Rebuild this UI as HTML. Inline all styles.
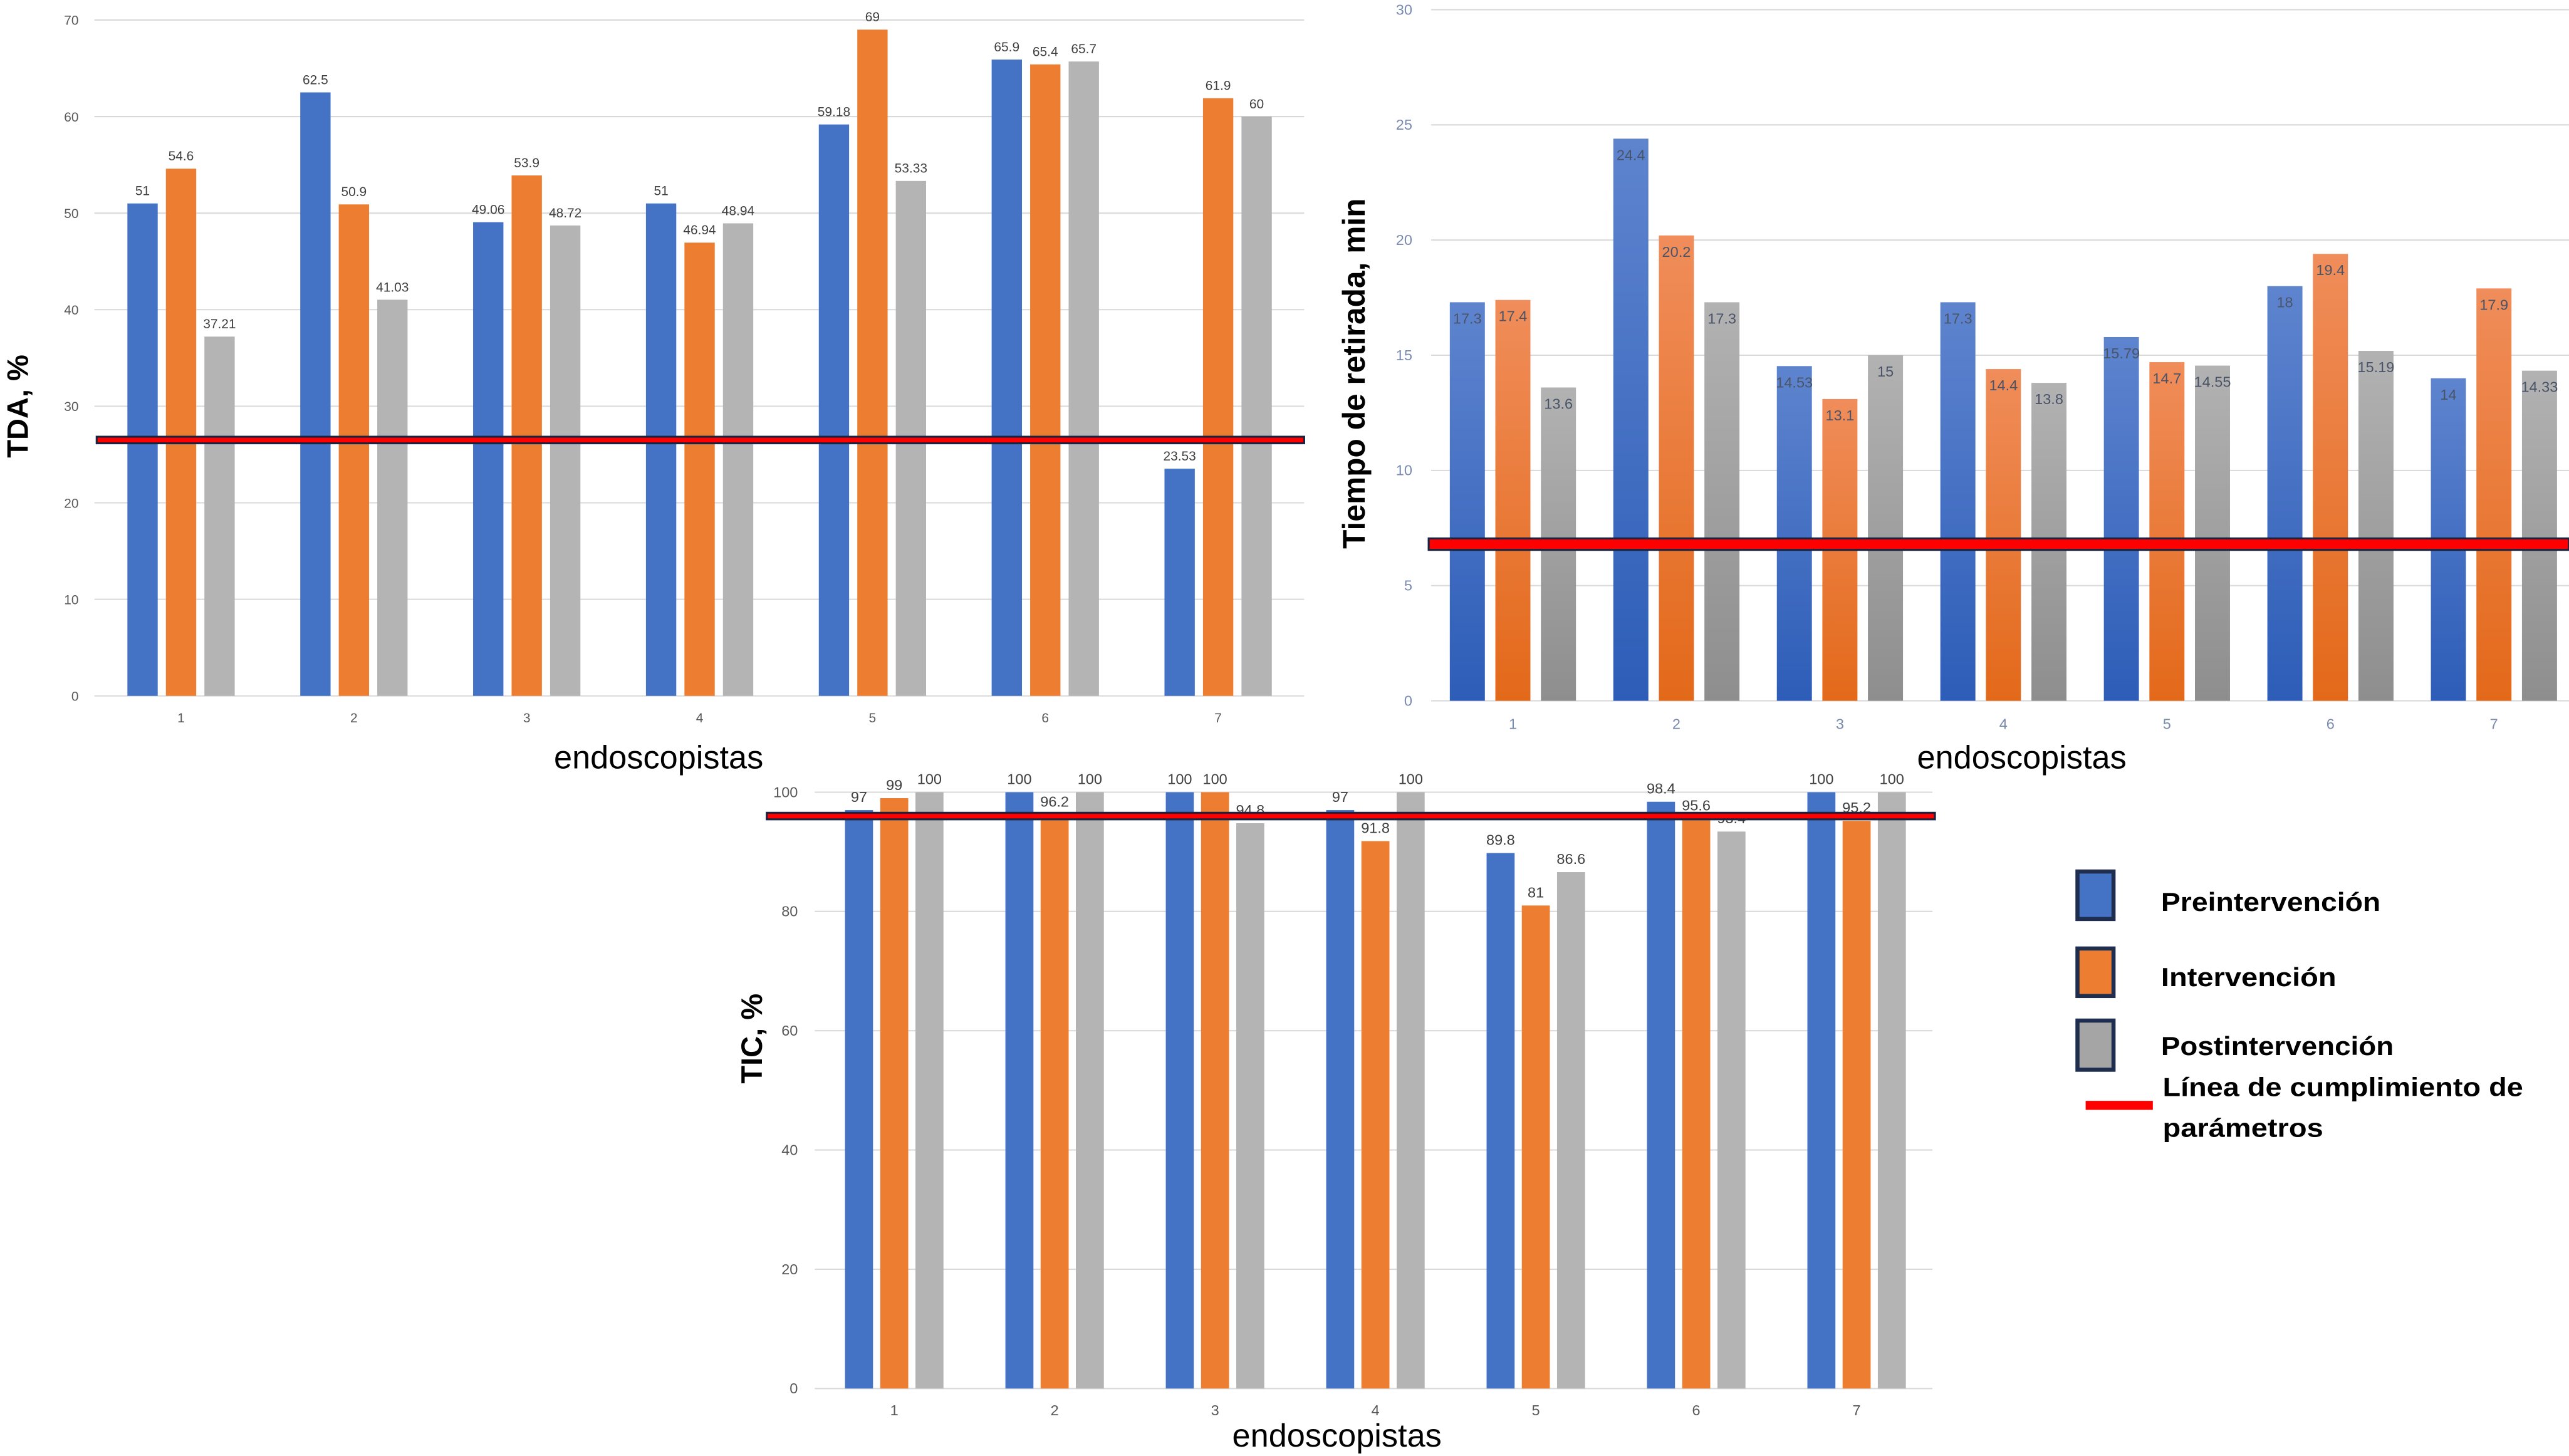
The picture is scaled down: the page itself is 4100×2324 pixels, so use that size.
<!DOCTYPE html>
<html><head><meta charset="utf-8"><style>
html,body{margin:0;padding:0;background:#fff;}
svg{display:block;}
</style></head><body>
<svg id="fig" xmlns="http://www.w3.org/2000/svg" width="4100" height="2324" viewBox="0 0 1568 888.8" font-family="'Liberation Sans', sans-serif">
<defs>
<linearGradient id="gBlue" x1="0" y1="0" x2="0" y2="1"><stop offset="0" stop-color="#5e84ce"/><stop offset="1" stop-color="#2d5db8"/></linearGradient>
<linearGradient id="gOrange" x1="0" y1="0" x2="0" y2="1"><stop offset="0" stop-color="#f08d5a"/><stop offset="1" stop-color="#e3691a"/></linearGradient>
<linearGradient id="gGray" x1="0" y1="0" x2="0" y2="1"><stop offset="0" stop-color="#b2b2b2"/><stop offset="1" stop-color="#8e8e8e"/></linearGradient>
</defs>
<g id="c1"></g>
<g id="c2"></g>
<g id="c3"></g>

<text x="17" y="248" transform="rotate(-90 17 248)" text-anchor="middle" font-size="18" font-weight="bold">TDA, %</text>
<text x="402" y="469" text-anchor="middle" font-size="20">endoscopistas</text>
<text x="833" y="228" transform="rotate(-90 833 228)" text-anchor="middle" font-size="19" font-weight="bold">Tiempo de retirada, min</text>
<text x="1234" y="469" text-anchor="middle" font-size="20">endoscopistas</text>
<text x="465" y="634" transform="rotate(-90 465 634)" text-anchor="middle" font-size="18" font-weight="bold">TIC, %</text>
<text x="816" y="883" text-anchor="middle" font-size="20">endoscopistas</text>

<g>
<rect x="1268" y="532" width="22" height="29" fill="#4472c4" stroke="#1f2d4e" stroke-width="2.5"/>
<text x="1319" y="556" font-size="16" font-weight="bold" textLength="134" lengthAdjust="spacingAndGlyphs">Preintervención</text>
<rect x="1268" y="579" width="22" height="29" fill="#ed7d31" stroke="#1f2d4e" stroke-width="2.5"/>
<text x="1319" y="602" font-size="16" font-weight="bold" textLength="107" lengthAdjust="spacingAndGlyphs">Intervención</text>
<rect x="1268" y="623" width="22" height="30" fill="#a5a5a5" stroke="#1f2d4e" stroke-width="2.5"/>
<text x="1319" y="644" font-size="16" font-weight="bold" textLength="142" lengthAdjust="spacingAndGlyphs">Postintervención</text>
<rect x="1273" y="672" width="41" height="5.5" fill="#ff0000"/>
<text x="1320" y="669" font-size="16" font-weight="bold" textLength="220" lengthAdjust="spacingAndGlyphs">Línea de cumplimiento de</text>
<text x="1320" y="694" font-size="16" font-weight="bold" textLength="98" lengthAdjust="spacingAndGlyphs">parámetros</text>
</g>
</svg>
<script>
const categories = ["1","2","3","4","5","6","7"];
const tdaPre = [51, 62.5, 49.06, 51, 59.18, 65.9, 23.53];
const tdaInt = [54.6, 50.9, 53.9, 46.94, 69, 65.4, 61.9];
const tdaPost = [37.21, 41.03, 48.72, 48.94, 53.33, 65.7, 60];
const tdaTicks = [0, 10, 20, 30, 40, 50, 60, 70];
const tdaThreshold = 26.5;
const timePre = [17.3, 24.4, 14.53, 17.3, 15.79, 18, 14];
const timeInt = [17.4, 20.2, 13.1, 14.4, 14.7, 19.4, 17.9];
const timePost = [13.6, 17.3, 15, 13.8, 14.55, 15.19, 14.33];
const timeTicks = [0, 5, 10, 15, 20, 25, 30];
const timeThreshold = 6.8;
const ticPre = [97, 100, 100, 97, 89.8, 98.4, 100];
const ticInt = [99, 96.2, 100, 91.8, 81, 95.6, 95.2];
const ticPost = [100, 100, 94.8, 100, 86.6, 93.4, 100];
const ticTicks = [0, 20, 40, 60, 80, 100];
const ticThreshold = 96;

const NS = "http://www.w3.org/2000/svg";
function mk(tag, attrs, parent){
  const e = document.createElementNS(NS, tag);
  for (const k in attrs) e.setAttribute(k, attrs[k]);
  parent.appendChild(e);
  return e;
}
function chart(g, o){
  const y = v => o.y0 - (v - o.min) / (o.max - o.min) * (o.y0 - o.yTop);
  const x = i => o.c0 + o.step * i;
  o.ticks.forEach(t => {
    const gl = mk("line", {x1:o.left, x2:o.right, y1:y(t), y2:y(t), stroke:"#d9d9d9", "stroke-width":0.8}, g);
    
    
    const tl = mk("text", {x:o.tickX, y:y(t)+3, "text-anchor":"end", "font-size":o.tickFs, fill:o.tickColor, "font-family":o.tickFont}, g);
    tl.textContent = t;
    
    
  });
  categories.forEach((c, i) => {
    const xl = mk("text", {x:x(i), y:o.xTickY, "text-anchor":"middle", "font-size":o.tickFs, fill:o.tickColor, "font-family":o.tickFont}, g);
    xl.textContent = c;
    
    
  });
  const series = [o.pre, o.int, o.post];
  const names = ["pre", "int", "post"];
  series.forEach((s, k) => {
    s.forEach((v, i) => {
      const cx = x(i) + (k - 1) * o.barStep;
      const r = mk("rect", {x:cx - o.bw/2, y:y(v), width:o.bw, height:o.y0 - y(v), fill:o.fills[k]}, g);
      
      
      const lbl = mk("text", {x:cx, y: o.inside ? y(v) + 13 : y(v) - 5, "text-anchor":"middle", "font-size":o.valFs, fill:o.valColor, "font-family":o.valFont}, g);
      lbl.textContent = v;
      
      
    });
  });
  const ty = y(o.threshold);
  const b = mk("rect", {x:o.lineL, y:ty - o.lw/2, width:o.lineR - o.lineL, height:o.lw, fill:"#ff0000", stroke:"#1a2440", "stroke-width":1.2}, g);
  
  
}
const narrow = "'Liberation Sans Narrow','Liberation Sans',sans-serif";
chart(document.getElementById("c1"), {
  pre:tdaPre, int:tdaInt, post:tdaPost, ticks:tdaTicks, threshold:tdaThreshold,
  min:0, max:70, y0:424.8, yTop:12.2, left:57.6, right:796, c0:110.5, step:105.5, bw:18.5, barStep:23.5,
  tickX:48, xTickY:441, tickFs:8, tickColor:"#595959", tickFont:"'Liberation Sans',sans-serif",
  valFs:8, valColor:"#404040", valFont:"'Liberation Sans',sans-serif", inside:false,
  fills:["#4472c4","#ed7d31","#b4b4b4"], lineL:59, lineR:796, lw:4
});
chart(document.getElementById("c2"), {
  pre:timePre, int:timeInt, post:timePost, ticks:timeTicks, threshold:timeThreshold,
  min:0, max:30, y0:427.8, yTop:5.9, left:873.5, right:1568, c0:923.4, step:99.8, bw:21.4, barStep:27.8,
  tickX:862, xTickY:445, tickFs:9, tickColor:"#7a8bb0", tickFont:"'Liberation Sans',sans-serif",
  valFs:9, valColor:"#4a5468", valFont:"'Liberation Sans',sans-serif", inside:true,
  fills:["url(#gBlue)","url(#gOrange)","url(#gGray)"], lineL:872, lineR:1568, lw:7
});
chart(document.getElementById("c3"), {
  pre:ticPre, int:ticInt, post:ticPost, ticks:ticTicks, threshold:ticThreshold,
  min:0, max:100, y0:847.6, yTop:483.6, left:497.3, right:1179.5, c0:545.8, step:97.9, bw:17.1, barStep:21.5,
  tickX:487, xTickY:864, tickFs:9, tickColor:"#595959", tickFont:narrow,
  valFs:9, valColor:"#404040", valFont:narrow, inside:false,
  fills:["#4472c4","#ed7d31","#b4b4b4"], lineL:468, lineR:1181, lw:4
});
</script>
</body></html>
